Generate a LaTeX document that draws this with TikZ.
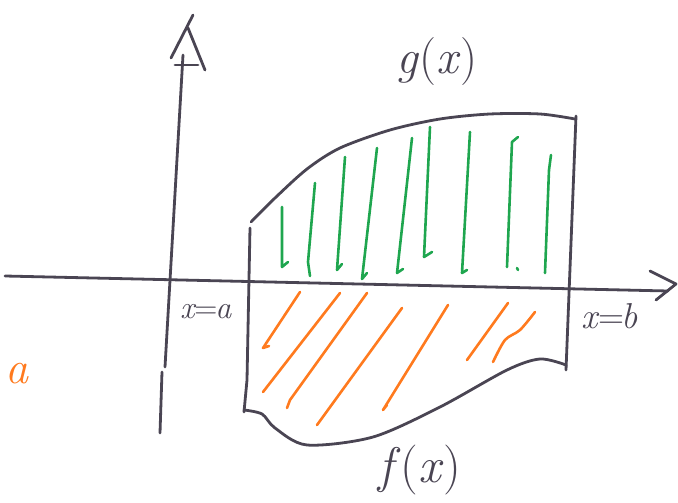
\documentclass[tikz,border=0pt]{standalone}
\usepackage{fontspec}
\usepackage{xcolor}
\definecolor{ink}{HTML}{4A4553}
\definecolor{hatchgreen}{HTML}{1FA64F}
\definecolor{hatchorange}{HTML}{FF7A1E}
\tikzset{
  pen/.style={ink, line width=2.8pt, line cap=round, line join=round},
  greenstroke/.style={hatchgreen, line width=2.6pt, line cap=round, line join=round},
  orangestroke/.style={hatchorange, line width=2.6pt, line cap=round, line join=round},
  hand/.style={ink, inner sep=0pt},
}
\begin{document}
\begin{tikzpicture}[x=1pt, y=-1pt]
    \useasboundingbox (0,0) rectangle (678,503);

    % axes
    \draw[pen] (5,276) -- (668,291);
    \draw[pen] (650,271) -- (676,284) -- (656,300);
    \draw[pen] (183,55) -- (165,367);
    \draw[pen] (162,372) -- (160,433);
    \draw[pen] (193,15) -- (171,58);
    \draw[pen] (188,28) -- (205,70);
    \draw[pen] (175,65) -- (198,65);

    % region between the curves
    \draw[pen] (250,228) -- (247,380) -- (244,412);
    \draw[pen] (576,116) -- (566,370);
    \draw[pen] plot[smooth] coordinates {(251,222) (275,198) (307,169) (340,148)
        (390,130) (440,119) (490,114) (540,114) (575,119)};
    \draw[pen] plot[smooth] coordinates {(244,410) (262,414) (275,428) (307,445)
        (373,437) (440,407) (507,370) (540,359) (566,365)};

    % green strokes above the axis
    \draw[greenstroke] (282,207) -- (282,267) -- (288,262);
    \draw[greenstroke] (315,183) -- (308,262) -- (310,276);
    \draw[greenstroke] (345,157) -- (337,270) -- (342,264);
    \draw[greenstroke] (377,148) -- (362,279) -- (367,273);
    \draw[greenstroke] (412,138) -- (397,273) -- (403,269);
    \draw[greenstroke] (430,127) -- (424,257) -- (432,252);
    \draw[greenstroke] (470,132) -- (462,273) -- (467,270);
    \draw[greenstroke] (518,137) -- (512,142) -- (507,267);
    \draw[greenstroke] (517,268) -- (518,270);
    \draw[greenstroke] (551,155) -- (549,170) -- (545,273);

    % orange strokes below the axis
    \draw[orangestroke] (300,292) -- (263,348) -- (269,346);
    \draw[orangestroke] (340,293) -- (263,392);
    \draw[orangestroke] (367,293) -- (290,400) -- (287,408);
    \draw[orangestroke] (402,308) -- (317,425);
    \draw[orangestroke] (448,305) -- (383,410) -- (387,405);
    \draw[orangestroke] (508,303) -- (467,360);
    \draw[orangestroke] plot[smooth] coordinates {(535,312) (520,330) (505,340) (493,362)};

    % labels
    \node[hand, font=\fontsize{48}{54}\selectfont] (glabel) at (437,62) {\textit{g}(\textit{x})};
    \node[hand, font=\fontsize{50}{56}\selectfont] (flabel) at (420,470) {\textit{f}(\textit{x})};
    \node[hand, font=\fontsize{32}{36}\selectfont] (alabel) at (206,312) {\textit{x}\kern-2pt=\kern-2pt\textit{a}};
    \node[hand, font=\fontsize{36}{40}\selectfont] (blabel) at (610,316) {\textit{x}\kern-2pt=\kern-2pt\textit{b}};
    \node[hatchorange, inner sep=0pt, font=\fontsize{46}{52}\selectfont\itshape] (aside) at (17,374) {a};
\end{tikzpicture}
\end{document}
